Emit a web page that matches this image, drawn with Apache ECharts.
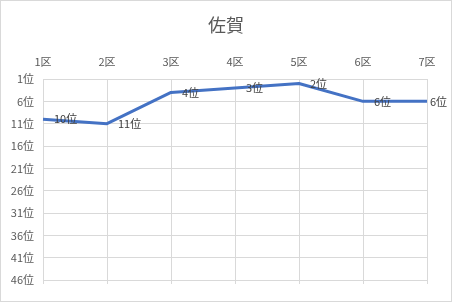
<!DOCTYPE html>
<html><head><meta charset="utf-8">
<script src="https://cdn.jsdelivr.net/npm/echarts@6/dist/echarts.min.js"></script>
<style>html,body{margin:0;padding:0;background:#fff}#c{width:450px;height:300px;border:1px solid #d9d9d9}</style>
</head><body><div id="c"></div>
<script>
const title = '佐賀';
const categories = ['1区','2区','3区','4区','5区','6区','7区'];
const ranks = [10, 11, 4, 3, 2, 6, 6];
const rankMin = 1, rankMax = 46, rankStep = 5;

const chart = echarts.init(document.getElementById('c'));
const font = '"Noto Sans CJK JP", "Noto Sans", sans-serif';
const seriesData = ranks.map((v, i) => i === ranks.length - 1 ? { value: v, label: { distance: 2 } } : v);
chart.setOption({
  animation: false,
  title: { text: title, left: 'center', top: 10, textStyle: { fontFamily: font, fontSize: 18, fontWeight: 'normal', color: '#595959' } },
  grid: { left: 42, right: 24, top: 78, bottom: 21, containLabel: false },
  xAxis: [{
    type: 'category', data: categories, position: 'top', boundaryGap: false,
    axisLine: { show: false }, axisTick: { show: false },
    axisLabel: { color: '#595959', fontSize: 11, fontFamily: font, margin: 12 },
    splitLine: { show: true, lineStyle: { color: '#d9d9d9', width: 1 } }
  }, {
    type: 'category', data: categories, position: 'bottom', boundaryGap: false,
    axisLine: { show: false }, axisTick: { show: true, alignWithLabel: true, length: 4, lineStyle: { color: '#d9d9d9' } },
    axisLabel: { show: false }
  }],
  yAxis: {
    type: 'value', inverse: true, min: rankMin, max: rankMax, interval: rankStep,
    axisLine: { show: false }, axisTick: { show: false },
    axisLabel: { color: '#595959', fontSize: 11, fontFamily: font, formatter: '{value}位', margin: 9 },
    splitLine: { lineStyle: { color: '#d9d9d9', width: 1 } }
  },
  series: [{
    type: 'line', data: seriesData, xAxisIndex: 0, symbol: 'circle', symbolSize: 2, showSymbol: true,
    itemStyle: { color: 'rgba(0,0,0,0)', borderWidth: 0 },
    lineStyle: { color: '#4472C4', width: 3 },
    label: { show: true, position: 'right', distance: 10, formatter: '{c}位', color: '#404040', fontSize: 11, fontFamily: font }
  }]
});
</script></body></html>
